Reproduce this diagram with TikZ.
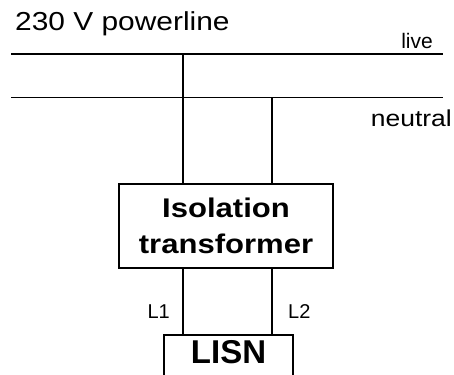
\documentclass[tikz,border=0pt]{standalone}
\usepackage{fontspec}
\setmainfont{Liberation Sans}[FakeStretch=1.15]
\newfontfamily\plainsans{Liberation Sans}
\usetikzlibrary{positioning}

\begin{document}
\begin{tikzpicture}[x=1pt,y=-1pt,
    wire/.style={line width=1.4pt},
    box/.style={draw,line width=1.8pt,align=center,
      font=\bfseries\fontsize{27}{36}\selectfont},
    lab/.style={inner sep=0pt}]
    \useasboundingbox (0,0) rectangle (454,374);
    \fill[white] (0,0) rectangle (454,374);
    % supply lines
    \node[lab,anchor=base west,font=\fontsize{26}{30}\selectfont] (title) at (15,31) {230 V powerline};
    \coordinate (liveW) at (11,54);
    \coordinate (liveE) at (443,54);
    \coordinate (neutW) at (11,97.5);
    \coordinate (neutE) at (443,97.5);
    \draw[wire] (liveW) -- (liveE);
    \draw[wire] (neutW) -- (neutE);
    \node[lab,anchor=base east,font=\plainsans\fontsize{21}{24}\selectfont] (live) at (433,48.5) {live};
    \node[lab,anchor=base east,font=\fontsize{23}{26}\selectfont] (neutral) at (452,127) {neutral};
    % boxes
    \node[box,minimum width=214pt,minimum height=84pt] (iso) at (226,226) {Isolation\\transformer};
    \node[box,font=\plainsans\bfseries\fontsize{33}{36}\selectfont,minimum width=129pt,
      text height=24pt,text depth=22pt,inner ysep=5pt,anchor=north] (lisn) at (228.5,334) {LISN};
    % taps and feeds
    \coordinate (tapL) at (183,54);
    \coordinate (tapN) at (272,97.5);
    \draw[wire] (tapL) -- (tapL |- iso.north);
    \draw[wire] (tapN) -- (tapN |- iso.north);
    \draw[wire] (iso.south -| tapL) -- (lisn.north -| tapL);
    \draw[wire] (iso.south -| tapN) -- (lisn.north -| tapN);
    \node[lab,anchor=base east,font=\plainsans\fontsize{20}{22}\selectfont] (l1) at (170,318) {L1};
    \node[lab,anchor=base west,font=\plainsans\fontsize{20}{22}\selectfont] (l2) at (288,318) {L2};
\end{tikzpicture}
\end{document}
